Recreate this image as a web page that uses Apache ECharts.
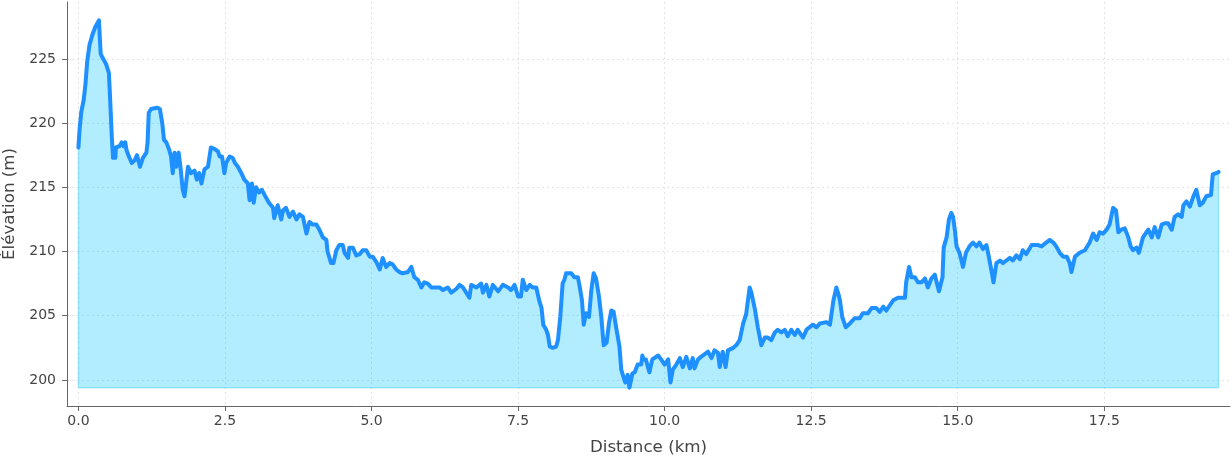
<!DOCTYPE html>
<html><head><meta charset="utf-8">
<script src="https://cdn.jsdelivr.net/npm/echarts@6/dist/echarts.min.js"></script>
<style>html,body{margin:0;padding:0;background:#fff}#c{width:1232px;height:460px}</style>
</head><body><div id="c"></div>
<script>
const distanceKm = [
0.00,0.02,0.05,0.09,0.12,0.15,0.19,0.24,0.29,0.35,0.38,0.41,0.46,0.48,0.52,0.54,0.57,0.59,0.63,0.64,
0.70,0.74,0.77,0.80,0.82,0.87,0.91,0.96,1.00,1.05,1.10,1.16,1.18,1.20,1.24,1.34,1.39,1.43,1.46,1.50,
1.53,1.55,1.58,1.61,1.64,1.67,1.71,1.74,1.78,1.81,1.87,1.92,1.98,2.02,2.06,2.10,2.15,2.21,2.26,2.32,
2.38,2.41,2.45,2.49,2.52,2.58,2.63,2.67,2.72,2.78,2.83,2.89,2.92,2.96,2.99,3.03,3.08,3.13,3.20,3.25,
3.32,3.34,3.40,3.46,3.49,3.54,3.60,3.66,3.72,3.77,3.83,3.89,3.94,4.00,4.06,4.11,4.17,4.23,4.25,4.31,
4.35,4.40,4.45,4.51,4.54,4.60,4.62,4.68,4.74,4.80,4.85,4.91,4.97,5.02,5.08,5.14,5.19,5.25,5.31,5.36,
5.42,5.48,5.53,5.62,5.68,5.73,5.79,5.85,5.90,5.96,6.02,6.08,6.16,6.22,6.30,6.36,6.45,6.50,6.56,6.67,
6.70,6.79,6.87,6.90,6.96,7.01,7.07,7.16,7.24,7.33,7.38,7.44,7.50,7.55,7.58,7.64,7.70,7.75,7.81,7.86,
7.90,7.93,7.98,8.01,8.04,8.09,8.15,8.18,8.22,8.26,8.29,8.32,8.41,8.46,8.52,8.55,8.59,8.62,8.66,8.71,
8.75,8.79,8.83,8.88,8.92,8.96,9.01,9.05,9.09,9.13,9.18,9.23,9.26,9.30,9.33,9.37,9.40,9.45,9.49,9.54,
9.60,9.62,9.64,9.68,9.74,9.79,9.89,9.94,10.00,10.06,10.10,10.14,10.20,10.26,10.31,10.37,10.43,10.48,10.51,10.57,
10.65,10.74,10.80,10.85,10.91,10.94,10.99,11.04,11.08,11.17,11.22,11.28,11.34,11.39,11.45,11.48,11.54,11.59,11.65,11.71,
11.76,11.82,11.88,11.93,11.99,12.05,12.10,12.16,12.22,12.27,12.36,12.42,12.47,12.53,12.59,12.65,12.76,12.82,12.88,12.93,
12.97,12.99,13.03,13.09,13.16,13.24,13.33,13.38,13.47,13.53,13.61,13.67,13.73,13.78,13.84,13.90,13.98,14.10,14.12,14.17,
14.21,14.27,14.32,14.38,14.44,14.49,14.55,14.61,14.64,14.68,14.74,14.76,14.81,14.85,14.89,14.92,14.95,14.98,15.03,15.09,
15.14,15.20,15.26,15.32,15.37,15.43,15.49,15.53,15.58,15.61,15.66,15.72,15.77,15.83,15.89,15.94,16.00,16.06,16.11,16.17,
16.26,16.37,16.43,16.51,16.57,16.63,16.68,16.74,16.80,16.86,16.91,16.94,17.00,17.08,17.17,17.25,17.31,17.37,17.42,17.48,
17.54,17.59,17.65,17.70,17.74,17.79,17.85,17.91,17.95,17.99,18.05,18.09,18.16,18.25,18.31,18.36,18.42,18.48,18.53,18.59,
18.65,18.70,18.76,18.82,18.85,18.90,18.96,19.02,19.07,19.13,19.18,19.24,19.32,19.35,19.41,19.45
];
const elevationM = [
218.1,219.5,220.9,221.8,223.0,224.8,226.1,226.9,227.5,228.0,225.4,225.1,224.7,224.5,223.9,222.0,218.9,217.3,217.3,218.1,
218.2,218.5,218.2,218.5,217.9,217.3,216.9,217.1,217.5,216.6,217.3,217.7,218.5,220.8,221.1,221.2,221.1,220.0,218.7,218.5,
218.6,217.9,217.4,216.1,217.7,216.6,217.7,216.6,214.8,214.3,216.6,216.1,216.3,215.6,216.1,215.3,216.4,216.6,218.1,218.0,
217.8,217.4,217.4,216.1,216.9,217.4,217.3,216.9,216.6,216.1,215.6,215.3,214.0,215.3,213.8,215.0,214.6,214.8,214.2,213.8,
213.4,212.6,213.6,212.5,213.2,213.4,212.7,213.1,212.5,212.9,212.7,211.4,212.3,212.1,212.1,211.7,211.1,210.9,210.0,209.1,
209.1,210.1,210.5,210.5,209.9,209.5,210.3,210.3,209.7,209.8,210.1,210.1,209.6,209.6,209.2,208.6,209.5,208.8,209.1,209.0,
208.6,208.4,208.3,208.4,208.8,208.0,207.8,207.2,207.6,207.5,207.2,207.2,207.2,207.0,207.2,206.8,207.1,207.4,207.2,206.4,
207.4,207.2,207.5,206.8,207.4,206.5,207.4,206.9,207.4,207.2,207.0,207.4,206.5,206.5,207.8,207.0,207.4,207.2,207.2,206.2,
205.6,204.3,203.9,203.5,202.6,202.5,202.6,203.1,204.9,207.5,207.8,208.3,208.3,208.0,208.0,207.3,206.2,204.3,205.2,204.9,
207.0,208.3,207.9,206.5,204.9,202.7,202.9,204.4,205.4,205.3,203.9,202.6,200.8,200.2,199.8,200.4,199.4,200.5,200.6,201.2,
201.2,201.9,201.6,201.6,200.6,201.6,201.9,201.6,201.2,201.6,199.8,200.8,201.2,201.7,201.0,201.8,200.9,201.7,200.9,201.6,
201.9,202.2,201.7,202.3,202.1,201.0,202.2,201.0,202.3,202.5,202.7,203.1,204.4,205.1,207.2,206.8,205.5,204.1,202.7,203.3,
203.3,203.1,203.7,203.9,203.7,203.9,203.4,203.9,203.5,203.9,203.3,203.9,204.1,204.3,204.1,204.4,204.5,204.3,206.2,207.2,
206.6,206.2,204.9,204.1,204.4,204.8,204.8,205.2,205.2,205.6,205.6,205.3,205.7,205.4,205.8,206.2,206.4,206.4,207.6,208.8,
208.0,208.0,207.6,207.6,207.9,207.2,207.9,208.2,207.6,206.9,208.0,210.3,211.1,212.5,213.0,212.7,211.7,210.4,209.9,208.8,
209.9,210.4,210.7,210.4,210.7,210.2,210.5,209.6,208.4,207.6,209.1,209.3,209.1,209.3,209.5,209.3,209.7,209.4,210.1,209.8,
210.5,210.5,210.4,210.7,210.9,210.7,210.4,209.9,209.6,209.6,209.1,208.4,209.6,209.9,210.1,210.7,211.4,210.9,211.5,211.4,
211.7,212.1,213.4,213.2,211.5,211.7,211.8,211.1,210.4,210.1,210.3,209.9,211.1,211.7,211.1,211.9,211.1,212.1,212.2,212.2,
211.7,212.7,212.9,212.7,213.6,213.9,213.5,214.3,214.8,213.6,213.8,214.3,214.4,216.0,216.1,216.2
];
const xTickValues = [0, 2.5, 5, 7.5, 10, 12.5, 15, 17.5];
const yTickValues = [200, 205, 210, 215, 220, 225];
const xAxisTitle = 'Distance (km)';
const yAxisTitle = 'Élévation (m)';

const pts = distanceKm.map((d, i) => [d, elevationM[i]]);
const xLo = Math.min(...distanceKm), xHi = Math.max(...distanceKm);
const yLo = Math.min(...elevationM), yHi = Math.max(...elevationM);
const xPad = (xHi - xLo) * 0.01, yPad = (yHi - yLo) * 0.05;
const n = distanceKm.length - 1;
const edgePts = [[distanceKm[0], elevationM[0]], [distanceKm[0], yLo], [distanceKm[n], yLo], [distanceKm[n], elevationM[n]]];

const font = 'DejaVu Sans';
const chart = echarts.init(document.getElementById('c'), null, {renderer: 'canvas'});
chart.setOption({
  animation: false,
  backgroundColor: '#ffffff',
  grid: {left: 67, right: 2, top: 2, bottom: 54, containLabel: false, outerBoundsMode: 'none'},
  xAxis: {
    type: 'value', min: xLo - xPad, max: xHi + xPad,
    name: xAxisTitle, nameLocation: 'middle', nameGap: 33,
    nameTextStyle: {fontFamily: font, fontSize: 16.7, color: '#444'},
    axisLine: {show: true, onZero: false, lineStyle: {color: '#666', width: 1}},
    axisTick: {show: true, length: 5, inside: false, customValues: xTickValues, lineStyle: {color: '#666'}},
    axisLabel: {customValues: xTickValues, formatter: v => v.toFixed(1), fontFamily: font, fontSize: 14, color: '#444', margin: 8},
    splitLine: {show: true, lineStyle: {color: '#e3e3e3', type: [2, 3], width: 1}}
  },
  yAxis: {
    type: 'value', min: yLo - yPad, max: yHi + yPad,
    name: yAxisTitle, nameLocation: 'middle', nameGap: 49, nameRotate: 90,
    nameTextStyle: {fontFamily: font, fontSize: 16.7, color: '#444'},
    axisLine: {show: true, onZero: false, lineStyle: {color: '#666', width: 1}},
    axisTick: {show: true, length: 5, inside: false, customValues: yTickValues, lineStyle: {color: '#666'}},
    axisLabel: {customValues: yTickValues, formatter: v => String(Math.round(v)), fontFamily: font, fontSize: 14, color: '#444', margin: 11},
    splitLine: {show: true, lineStyle: {color: '#e3e3e3', type: [2, 3], width: 1}}
  },
  series: [
    {
      type: 'line', data: pts, showSymbol: false, symbol: 'none', silent: true,
      lineStyle: {width: 0, opacity: 0},
      areaStyle: {color: 'rgba(0,191,255,0.3)', origin: yLo, opacity: 1},
      z: 1
    },
    {
      type: 'line', data: edgePts, showSymbol: false, symbol: 'none', silent: true,
      lineStyle: {width: 1.5, color: 'rgba(0,191,255,0.3)'},
      z: 2
    },
    {
      type: 'line', data: pts, showSymbol: false, symbol: 'none', silent: true,
      lineStyle: {width: 4, color: '#1e90ff', join: 'round', cap: 'round'},
      z: 3
    }
  ]
});
</script>
</body></html>
